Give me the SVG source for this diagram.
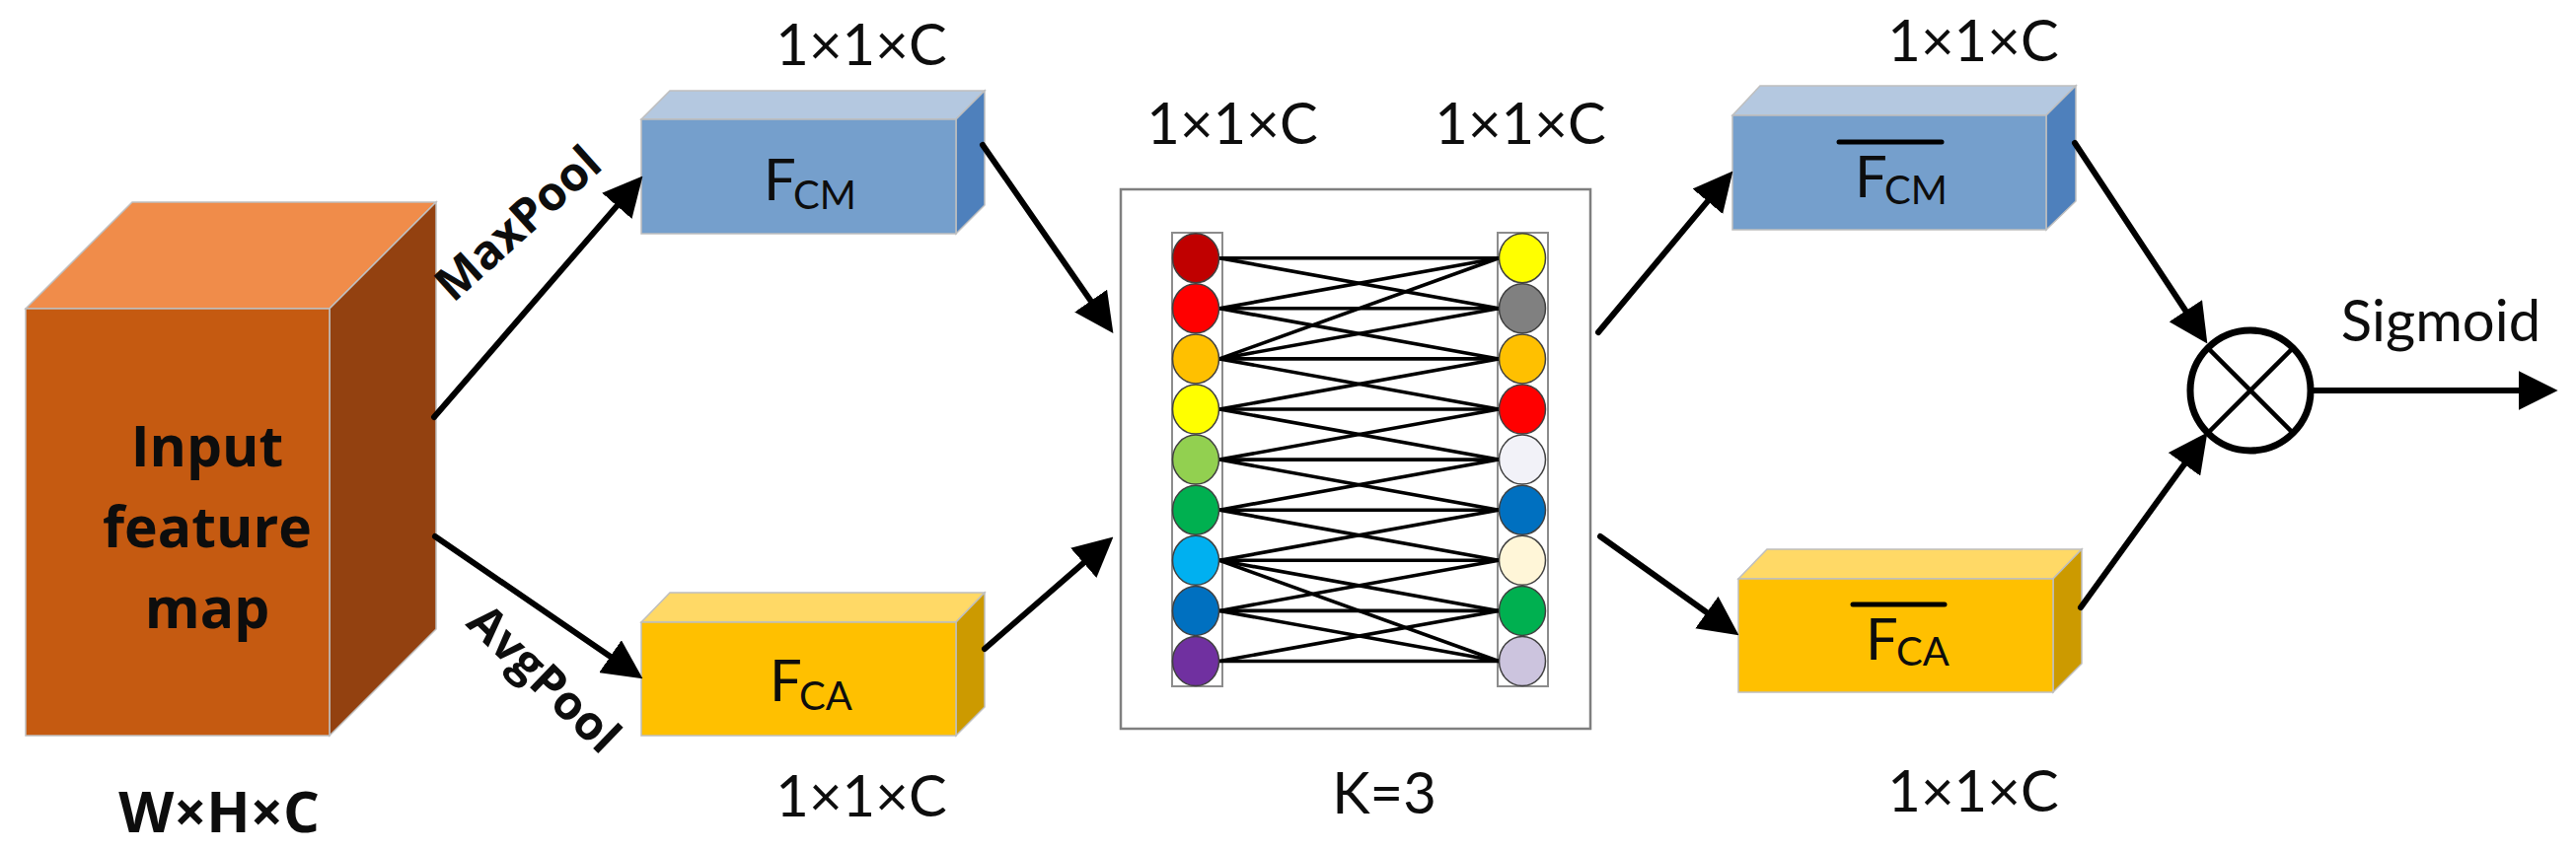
<svg xmlns="http://www.w3.org/2000/svg" width="2611" height="862" viewBox="0 0 2611 862">
<style>
.lbl{font-family:Lato,"Open Sans","Liberation Sans",sans-serif;font-size:58px;fill:#0d0d0d}
.bold{font-family:"Open Sans","Noto Sans","Liberation Sans",sans-serif;font-weight:bold;fill:#0d0d0d}
.sub{font-size:40px}
.edge{stroke:#bfbfbf;stroke-width:1.5}
.conn{stroke:#000;stroke-width:6;stroke-linecap:round;fill:none}
.net line{stroke:#000;stroke-width:3.6}
.col{fill:#fff;stroke:#8c8c8c;stroke-width:2}
.nd{stroke:#404040;stroke-width:1.5}
.ovl{stroke:#000;stroke-width:5;stroke-linecap:round}
</style>
<defs>
<marker id="ah" markerUnits="userSpaceOnUse" markerWidth="40" markerHeight="40" viewBox="0 0 38 38" refX="26" refY="19" orient="auto">
<path d="M0,0 L38,19 L0,38 Z" fill="#000"/>
</marker>
</defs>
<rect width="2611" height="862" fill="#fff"/>

<g id="input-cube">
<polygon class="edge" points="26,313 134,205 442,205 334,313" fill="#F08C4A"/>
<polygon class="edge" points="334,313 442,205 442,638 334,746" fill="#934110"/>
<rect class="edge" x="26" y="313" width="308" height="433" fill="#C55A11"/>
<text class="bold" font-size="57" text-anchor="middle"><tspan x="210" y="473">Input</tspan><tspan x="210" y="555">feature</tspan><tspan x="210" y="637">map</tspan></text>
<text class="bold" font-size="58" x="222" y="844" text-anchor="middle">W×H×C</text>
</g>

<g id="fcm">
<polygon class="edge" points="650,121 679,92 998,92 969,121" fill="#B4C8E0"/>
<polygon class="edge" points="969,121 998,92 998,208 969,237" fill="#4E80BC"/>
<rect class="edge" x="650" y="121" width="319" height="116" fill="#759FCC"/>
<text class="lbl" x="774" y="203">F<tspan class="sub" x="804" y="212">CM</tspan></text>
<text class="lbl" x="873" y="66" text-anchor="middle">1×1×C</text>
</g>

<g id="fca">
<polygon class="edge" points="650,631 679,601 998,601 969,631" fill="#FFD966"/>
<polygon class="edge" points="969,631 998,601 998,717 969,746" fill="#CC9A00"/>
<rect class="edge" x="650" y="631" width="319" height="115" fill="#FFC000"/>
<text class="lbl" x="780" y="711">F<tspan class="sub" x="810" y="720">CA</tspan></text>
<text class="lbl" x="873" y="828" text-anchor="middle">1×1×C</text>
</g>

<g id="eca-conv">
<rect x="1136" y="192" width="476" height="547" fill="#fff" stroke="#7f7f7f" stroke-width="2.5"/>
<rect class="col" x="1188" y="236" width="51" height="460"/>
<rect class="col" x="1518" y="236" width="51" height="460"/>
<g class="net">
<line x1="1236" y1="261.7" x2="1519" y2="261.7"/>
<line x1="1236" y1="312.8" x2="1519" y2="261.7"/>
<line x1="1236" y1="363.9" x2="1519" y2="261.7"/>
<line x1="1236" y1="261.7" x2="1519" y2="312.8"/>
<line x1="1236" y1="312.8" x2="1519" y2="312.8"/>
<line x1="1236" y1="363.9" x2="1519" y2="312.8"/>
<line x1="1236" y1="312.8" x2="1519" y2="363.9"/>
<line x1="1236" y1="363.9" x2="1519" y2="363.9"/>
<line x1="1236" y1="415.0" x2="1519" y2="363.9"/>
<line x1="1236" y1="363.9" x2="1519" y2="415.0"/>
<line x1="1236" y1="415.0" x2="1519" y2="415.0"/>
<line x1="1236" y1="466.1" x2="1519" y2="415.0"/>
<line x1="1236" y1="415.0" x2="1519" y2="466.1"/>
<line x1="1236" y1="466.1" x2="1519" y2="466.1"/>
<line x1="1236" y1="517.2" x2="1519" y2="466.1"/>
<line x1="1236" y1="466.1" x2="1519" y2="517.2"/>
<line x1="1236" y1="517.2" x2="1519" y2="517.2"/>
<line x1="1236" y1="568.3" x2="1519" y2="517.2"/>
<line x1="1236" y1="517.2" x2="1519" y2="568.3"/>
<line x1="1236" y1="568.3" x2="1519" y2="568.3"/>
<line x1="1236" y1="619.4" x2="1519" y2="568.3"/>
<line x1="1236" y1="568.3" x2="1519" y2="619.4"/>
<line x1="1236" y1="619.4" x2="1519" y2="619.4"/>
<line x1="1236" y1="670.5" x2="1519" y2="619.4"/>
<line x1="1236" y1="568.3" x2="1519" y2="670.5"/>
<line x1="1236" y1="619.4" x2="1519" y2="670.5"/>
<line x1="1236" y1="670.5" x2="1519" y2="670.5"/>
</g>
<g class="nd">
<ellipse cx="1212" cy="261.7" rx="23.5" ry="25" fill="#C00000"/>
<ellipse cx="1212" cy="312.8" rx="23.5" ry="25" fill="#FF0000"/>
<ellipse cx="1212" cy="363.9" rx="23.5" ry="25" fill="#FFC000"/>
<ellipse cx="1212" cy="415.0" rx="23.5" ry="25" fill="#FFFF00"/>
<ellipse cx="1212" cy="466.1" rx="23.5" ry="25" fill="#92D050"/>
<ellipse cx="1212" cy="517.2" rx="23.5" ry="25" fill="#00B050"/>
<ellipse cx="1212" cy="568.3" rx="23.5" ry="25" fill="#00B0F0"/>
<ellipse cx="1212" cy="619.4" rx="23.5" ry="25" fill="#0070C0"/>
<ellipse cx="1212" cy="670.5" rx="23.5" ry="25" fill="#7030A0"/>
<ellipse cx="1543" cy="261.7" rx="23.5" ry="25" fill="#FFFF00"/>
<ellipse cx="1543" cy="312.8" rx="23.5" ry="25" fill="#808080"/>
<ellipse cx="1543" cy="363.9" rx="23.5" ry="25" fill="#FFC000"/>
<ellipse cx="1543" cy="415.0" rx="23.5" ry="25" fill="#FF0000"/>
<ellipse cx="1543" cy="466.1" rx="23.5" ry="25" fill="#F2F2F8"/>
<ellipse cx="1543" cy="517.2" rx="23.5" ry="25" fill="#0070C0"/>
<ellipse cx="1543" cy="568.3" rx="23.5" ry="25" fill="#FFF6D8"/>
<ellipse cx="1543" cy="619.4" rx="23.5" ry="25" fill="#00B050"/>
<ellipse cx="1543" cy="670.5" rx="23.5" ry="25" fill="#CCC4DE"/>
</g>
<text class="lbl" x="1249" y="146" text-anchor="middle">1×1×C</text>
<text class="lbl" x="1541" y="146" text-anchor="middle">1×1×C</text>
<text class="lbl" x="1403" y="825" text-anchor="middle">K=3</text>
</g>

<g id="fcm-bar">
<polygon class="edge" points="1756,117 1784,87 2104,87 2074,117" fill="#B4C8E0"/>
<polygon class="edge" points="2074,117 2104,87 2104,204 2074,233" fill="#4E80BC"/>
<rect class="edge" x="1756" y="117" width="318" height="116" fill="#759FCC"/>
<line class="ovl" x1="1864" y1="144" x2="1968" y2="144"/>
<text class="lbl" x="1880" y="200">F<tspan class="sub" x="1910" y="207">CM</tspan></text>
<text class="lbl" x="2000" y="62" text-anchor="middle">1×1×C</text>
</g>

<g id="fca-bar">
<polygon class="edge" points="1762,587 1791,557 2110,557 2081,587" fill="#FFD966"/>
<polygon class="edge" points="2081,587 2110,557 2110,673 2081,702" fill="#CC9A00"/>
<rect class="edge" x="1762" y="587" width="319" height="115" fill="#FFC000"/>
<line class="ovl" x1="1878" y1="613" x2="1971" y2="613"/>
<text class="lbl" x="1891" y="669">F<tspan class="sub" x="1922" y="675">CA</tspan></text>
<text class="lbl" x="2000" y="823" text-anchor="middle">1×1×C</text>
</g>

<g id="multiply">
<circle cx="2281" cy="396" r="61" fill="#fff" stroke="#000" stroke-width="7"/>
<line x1="2238.6" y1="353.6" x2="2323.4" y2="438.4" stroke="#000" stroke-width="4.5"/>
<line x1="2238.6" y1="438.4" x2="2323.4" y2="353.6" stroke="#000" stroke-width="4.5"/>
<text class="lbl" x="2474" y="346" text-anchor="middle">Sigmoid</text>
</g>

<g id="connectors">
<line class="conn" x1="440" y1="423" x2="643.2" y2="188.1" marker-end="url(#ah)"/>
<line class="conn" x1="441" y1="544" x2="641.1" y2="681.2" marker-end="url(#ah)"/>
<line class="conn" x1="996" y1="147" x2="1121.2" y2="327.6" marker-end="url(#ah)"/>
<line class="conn" x1="998" y1="658" x2="1118.9" y2="552.9" marker-end="url(#ah)"/>
<line class="conn" x1="1620" y1="337" x2="1748.3" y2="183.2" marker-end="url(#ah)"/>
<line class="conn" x1="1622" y1="544" x2="1752.2" y2="637" marker-end="url(#ah)"/>
<line class="conn" x1="2103" y1="145" x2="2230.4" y2="338" marker-end="url(#ah)"/>
<line class="conn" x1="2109" y1="616" x2="2230" y2="448.7" marker-end="url(#ah)"/>
<line class="conn" x1="2345" y1="396" x2="2580" y2="396" marker-end="url(#ah)"/>
<text class="bold" font-size="48" text-anchor="middle" transform="translate(536,239) rotate(-42)">MaxPool</text>
<text class="bold" font-size="48" text-anchor="middle" transform="translate(540,700) rotate(44)">AvgPool</text>
</g>
</svg>
